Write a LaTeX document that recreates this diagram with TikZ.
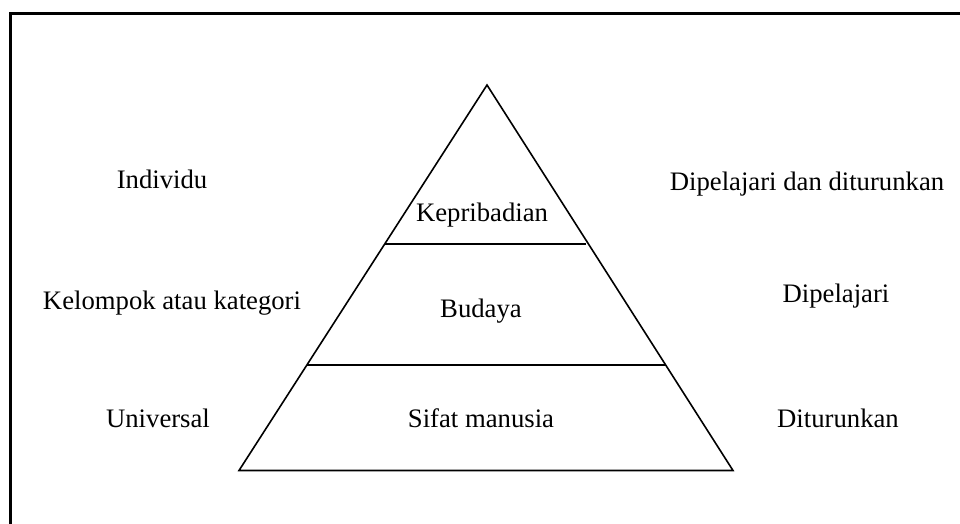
\documentclass[tikz,border=0pt]{standalone}
\usepackage{fontspec}
\setmainfont{Liberation Serif}
\begin{document}
\begin{tikzpicture}[x=1pt,y=-1pt,
  lbl/.style={font=\fontsize{26.7}{32}\selectfont, inner sep=0pt, anchor=base},
  edge/.style={line width=1.6pt, black}]
\useasboundingbox (0,0) rectangle (960,523);
% frame (only top and left edges visible)
\draw[line width=2.6pt] (10.7,530) -- (10.7,13.7) -- (970,13.7);
% triangle
\coordinate (apex) at (487,85);
\coordinate (bl) at (239,470.5);
\coordinate (br) at (733,470.5);
\draw[edge, line join=miter] (apex) -- (bl) -- (br) -- cycle;
\coordinate (u1) at (384.6,244);
\coordinate (u2) at (586.4,244);
\coordinate (l1) at (307,365);
\coordinate (l2) at (666,365);
\draw[edge] (u1) -- (u2);
\draw[edge] (l1) -- (l2);
% labels
\node[lbl] (ind) at (162,188) {Individu};
\node[lbl] (kep) at (482,221) {Kepribadian};
\node[lbl] (dd) at (807,190) {Dipelajari dan diturunkan};
\node[lbl] (kel) at (172,309) {Kelompok atau kategori};
\node[lbl] (bud) at (481,317) {Budaya};
\node[lbl] (dip) at (836,302) {Dipelajari};
\node[lbl] (uni) at (158,427) {Universal};
\node[lbl] (sif) at (481,427) {Sifat manusia};
\node[lbl] (dit) at (838,427) {Diturunkan};
\end{tikzpicture}
\end{document}
